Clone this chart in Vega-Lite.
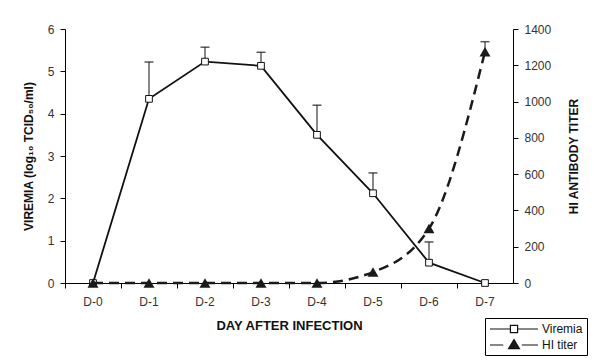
{
  "$schema": "https://vega.github.io/schema/vega-lite/v6.json",
  "width": 448,
  "height": 254,
  "autosize": {"type": "none"},
  "padding": {"left": 65, "top": 29, "right": 87, "bottom": 79},
  "background": "white",
  "config": {
    "view": {"stroke": null},
    "font": "Liberation Sans",
    "axis": {
      "domainColor": "#000",
      "tickColor": "#000",
      "labelColor": "#333",
      "labelFont": "Liberation Sans",
      "labelFontSize": 12,
      "titleFont": "Liberation Sans",
      "titleFontSize": 12,
      "titleFontWeight": "bold",
      "titleColor": "#111",
      "grid": false,
      "tickSize": 5,
      "labelOverlap": false
    },
    "legend": {
      "orient": "none", "legendX": 420, "legendY": 289,
      "title": null, "strokeColor": "#000", "padding": 4,
      "symbolSize": 144, "symbolStrokeWidth": 1.2, "symbolOpacity": 1,
      "labelFont": "Liberation Sans", "labelFontSize": 12, "labelColor": "#111",
      "labelOffset": 39, "rowPadding": 2, "fillColor": "white"
    }
  },
  "datasets": {
    "main": [
      {"day": "D-0", "viremia": 0, "viremia_upper": null, "hi": 0, "hi_upper": null},
      {"day": "D-1", "viremia": 4.35, "viremia_upper": 5.22, "hi": 0, "hi_upper": null},
      {"day": "D-2", "viremia": 5.23, "viremia_upper": 5.57, "hi": 0, "hi_upper": null},
      {"day": "D-3", "viremia": 5.13, "viremia_upper": 5.45, "hi": 0, "hi_upper": null},
      {"day": "D-4", "viremia": 3.5, "viremia_upper": 4.2, "hi": 0, "hi_upper": null},
      {"day": "D-5", "viremia": 2.12, "viremia_upper": 2.6, "hi": 60, "hi_upper": null},
      {"day": "D-6", "viremia": 0.48, "viremia_upper": 0.97, "hi": 300, "hi_upper": null},
      {"day": "D-7", "viremia": 0, "viremia_upper": null, "hi": 1275, "hi_upper": 1330}
    ],
    "series": [{"series": "Viremia"}, {"series": "HI titer"}]
  },
  "layer": [
    {
      "data": {"name": "main"},
      "encoding": {
        "x": {
          "field": "day", "type": "nominal",
          "scale": {"type": "band", "paddingInner": 0, "paddingOuter": 0},
          "axis": {"labelAngle": 0, "bandPosition": 0, "labelPadding": 8, "title": "DAY AFTER INFECTION", "titlePadding": 12, "titleFontSize": 13}
        },
        "y": {
          "field": "viremia", "type": "quantitative",
          "scale": {"domain": [0, 6], "nice": false},
          "axis": {"values": [0, 1, 2, 3, 4, 5, 6], "title": "VIREMIA (log₁₀ TCID₅₀/ml)", "titlePadding": 12, "labelPadding": 6, "labelOverlap": false}
        }
      },
      "layer": [
        {
          "mark": {"type": "rule", "color": "#111", "strokeWidth": 1},
          "encoding": {
            "y2": {"field": "viremia_upper"}
          }
        },
        {
          "mark": {"type": "tick", "color": "#111", "size": 9, "thickness": 1.5},
          "encoding": {
            "y": {"field": "viremia_upper", "type": "quantitative"}
          }
        },
        {
          "mark": {"type": "line", "color": "#111", "strokeWidth": 1.8},
          "encoding": {}
        },
        {
          "mark": {"type": "point", "shape": "square", "size": 45, "filled": true, "fill": "white", "stroke": "#111", "strokeWidth": 1, "opacity": 1},
          "encoding": {}
        }
      ]
    },
    {
      "data": {"name": "main"},
      "encoding": {
        "x": {"field": "day", "type": "nominal"},
        "y": {
          "field": "hi", "type": "quantitative",
          "scale": {"domain": [0, 1400], "nice": false},
          "axis": {"orient": "right", "values": [0, 200, 400, 600, 800, 1000, 1200, 1400], "format": "d", "title": "HI ANTIBODY TITER", "titleAngle": 270, "titlePadding": 30, "labelPadding": 6, "labelOverlap": false}
        }
      },
      "layer": [
        {
          "mark": {"type": "rule", "color": "#111", "strokeWidth": 1},
          "encoding": {
            "y2": {"field": "hi_upper"}
          }
        },
        {
          "mark": {"type": "tick", "color": "#111", "size": 9, "thickness": 1.5},
          "encoding": {
            "y": {"field": "hi_upper", "type": "quantitative"}
          }
        },
        {
          "mark": {"type": "line", "color": "#1a1a1a", "strokeWidth": 2.5, "strokeDash": [10, 6], "interpolate": "monotone"},
          "encoding": {}
        },
        {
          "mark": {"type": "point", "shape": "triangle-up", "size": 120, "filled": true, "color": "#1a1a1a", "opacity": 1},
          "encoding": {}
        }
      ]
    },
    {
      "data": {"name": "series"},
      "mark": {"type": "point", "filled": true, "opacity": 0, "strokeWidth": 1.2},
      "encoding": {
        "shape": {
          "field": "series", "type": "nominal",
          "scale": {
            "domain": ["Viremia", "HI titer"],
            "range": [
              "M-1,0H2.4M3.6,0H7M2.4,-0.6H3.6V0.6H2.4Z",
              "M-1,0H1.2M4.3,0H7M2.1,0.6L3,-0.9L3.9,0.6Z"
            ]
          }
        },
        "fill": {
          "field": "series", "type": "nominal",
          "scale": {"domain": ["Viremia", "HI titer"], "range": ["white", "#1a1a1a"]}
        },
        "stroke": {
          "field": "series", "type": "nominal",
          "scale": {"domain": ["Viremia", "HI titer"], "range": ["#111", "#111"]}
        }
      }
    }
  ],
  "resolve": {"scale": {"y": "independent"}}
}
